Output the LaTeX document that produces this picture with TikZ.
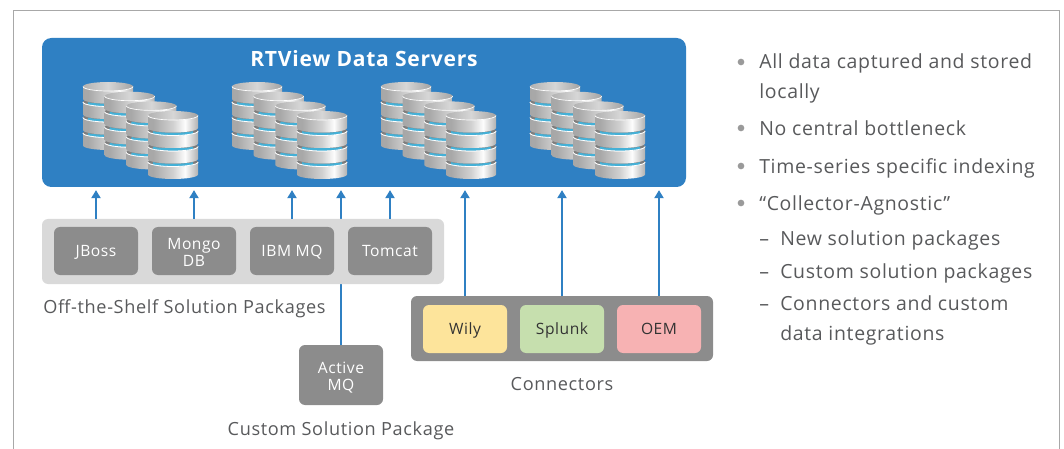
\documentclass[tikz,border=0pt]{standalone}
\usepackage{fontspec}
\setmainfont[LetterSpace=3.5]{Open Sans}
\usetikzlibrary{positioning, calc, arrows.meta}
\definecolor{ServerBlue}{HTML}{2F80C3}
\definecolor{PanelLight}{HTML}{D9D9D9}
\definecolor{BoxGray}{HTML}{8C8C8C}
\definecolor{WilyYellow}{HTML}{FDE49B}
\definecolor{SplunkGreen}{HTML}{C6DFAE}
\definecolor{OemPink}{HTML}{F7B2B3}
\definecolor{TextGray}{HTML}{58595B}
\definecolor{DotGray}{HTML}{9A9A9A}
\definecolor{FrameGray}{HTML}{A8A8A8}
\definecolor{RingTeal}{HTML}{45B0D6}
\pgfdeclarehorizontalshading{DiskSide}{100bp}{
color(0bp)=(white!50!black);
color(8bp)=(white!64!black);
color(30bp)=(white!66!black);
color(50bp)=(white!82!black);
color(62bp)=(white!99!black);
color(74bp)=(white!72!black);
color(90bp)=(white!45!black);
color(100bp)=(white!52!black)}
\pgfdeclarehorizontalshading{DiskTop}{100bp}{
color(0bp)=(white!88!black);
color(22bp)=(white!68!black);
color(50bp)=(white!84!black);
color(80bp)=(white!60!black);
color(100bp)=(white!80!black)}
\pgfdeclarehorizontalshading{DiskGap}{100bp}{
color(0bp)=(white!35!black);
color(50bp)=(white!62!black);
color(100bp)=(white!30!black)}
\tikzset{
Disk/.pic={
	\shade[shading=DiskSide] (-25,0) -- (-25,12.5) arc[start angle=180, end angle=0, x radius=25, y radius=4.5] -- (25,0) -- cycle;
	\shade[shading=DiskTop] (0,0) ellipse [x radius=25, y radius=4.5];
	\draw[white, line width=0.5pt] (-25,0) arc[start angle=180, end angle=0, x radius=25, y radius=4.5];
},
Ring/.pic={
	\shade[shading=DiskGap] (0,0) ellipse [x radius=25, y radius=4.5];
	\draw[RingTeal, line width=2pt] (-20,1.2) arc[start angle=180, end angle=0, x radius=20, y radius=1.8];
	\draw[white, line width=0.6pt] (-25,0) arc[start angle=180, end angle=0, x radius=25, y radius=4.5];
},
Stack/.pic={
	\pic at (0,46.5) {Disk};
	\pic at (0,46.5) {Ring};
	\pic at (0,31) {Disk};
	\pic at (0,31) {Ring};
	\pic at (0,15.5) {Disk};
	\pic at (0,15.5) {Ring};
	\pic at (0,0) {Disk};
},
Tower/.pic={
	\pic at (0,0) {Stack};
	\pic at (21.7,9.7) {Stack};
	\pic at (43.4,19.4) {Stack};
	\pic at (65,29) {Stack};
},
}
\tikzstyle{Link} = [
%uplink with a small gap under the server block:
draw=ServerBlue, line width=1pt, -{Triangle[length=6pt, width=7pt]}, shorten >= 2.2pt
]
\begin{document}
\begin{tikzpicture}[
		x=0.75pt, y=-0.75pt,
		panel/.style = {rectangle, rounded corners=4.5pt, minimum width=301.5pt, minimum height=48.75pt},
		solution/.style = {rectangle, rounded corners=4.5pt, minimum width=63pt, minimum height=36pt, fill=BoxGray, text=white, align=center, font=\fontsize{11.7}{12.5}\selectfont, inner sep=0pt, text depth=0pt},
		oneline/.style = {text height=8.4pt},
		connector/.style = {rectangle, rounded corners=4.5pt, minimum width=63pt, minimum height=36pt, text=black!80, font=\fontsize{11.7}{12.5}\selectfont, inner sep=0pt, text height=8.4pt, text depth=0pt},
		caption/.style = {text=TextGray, font=\fontsize{13.6}{15}\selectfont, inner sep=0pt, anchor=base},
		point/.style = {text=TextGray, font=\fontsize{14.6}{22.75}\selectfont, inner sep=0pt, anchor=base west, align=left},
		dot/.style = {circle, fill=DotGray, inner sep=0pt, minimum size=5pt},
	]
	\useasboundingbox (0,0) rectangle (1064,449);
	\coordinate (FB) at (13.5,449);
	\coordinate (FT) at (13.5,10.5);
	\coordinate (GT) at (1059.5,10.5);
	\coordinate (GB) at (1059.5,449);
	\draw[FrameGray, line width=1pt] (FB)--(FT)--(GT)--(GB);

	\node[rectangle, rounded corners=7pt, fill=ServerBlue, minimum width=483pt, minimum height=111.75pt] (servers) at (364,112.5) {};
	\node[text=white, inner sep=0pt, anchor=base, font=\fontsize{15.8}{18}\selectfont\bfseries] (title) at (364,66.5) {RTView Data Servers};

	\pic at (108,86.5) {Tower};
	\pic at (257,86.5) {Tower};
	\pic at (406,86.5) {Tower};
	\pic at (555,86.5) {Tower};

	\node[solution, minimum height=45pt] (amq) at (341,375) {};
	\node[solution, fill=none, minimum height=0pt, minimum width=0pt] (amqtext) at (341,376.5) {Active\\MQ};
	\draw[Link](amq.north)--(amq.north |- servers.south);

	\node[panel, fill=PanelLight] (packages) at (243,251.5) {};
	\node[solution, oneline] (jboss) at (96,251) {JBoss};
	\node[solution] (mongo) at (194,251) {};
	\node[solution, fill=none, minimum height=0pt, minimum width=0pt] (mongotext) at (194,252.5) {Mongo\\DB};
	\node[solution, oneline] (ibm) at (292,251) {IBM MQ};
	\node[solution, oneline] (tomcat) at (390,251) {Tomcat};

	\node[panel, minimum width=226.5pt, fill=BoxGray] (connectors) at (562,328.5) {};
	\node[connector, fill=WilyYellow] (wily) at (465,329) {Wily};
	\node[connector, fill=SplunkGreen] (splunk) at (562,329) {Splunk};
	\node[connector, fill=OemPink] (oem) at (659,329) {OEM};

	\draw[Link](jboss.north |- packages.north)--(jboss.north |- servers.south);
	\draw[Link](mongo.north |- packages.north)--(mongo.north |- servers.south);
	\draw[Link](ibm.north |- packages.north)--(ibm.north |- servers.south);
	\draw[Link](tomcat.north |- packages.north)--(tomcat.north |- servers.south);
	\draw[Link](wily.north |- connectors.north)--(wily.north |- servers.south);
	\draw[Link](splunk.north |- connectors.north)--(splunk.north |- servers.south);
	\draw[Link](oem.north |- connectors.north)--(oem.north |- servers.south);

	\node[caption] (offshelf) at (184.5,313) {Off-the-Shelf Solution Packages};
	\node[caption] (custom) at (341,435) {Custom Solution Package};
	\node[caption] (connlabel) at (562,390) {Connectors};

	\node[dot] (d1) at (741,62) {};
	\node[dot] (d2) at (741,128) {};
	\node[dot] (d3) at (741,166) {};
	\node[dot] (d4) at (741,203) {};
	\node[point] (p1) at (759,99) {All data captured and stored\\locally};
	\node[point] (p2) at (759,136) {No central bottleneck};
	\node[point] (p3) at (759,174) {Time-series specific indexing};
	\node[point] (p4) at (759,211) {“Collector-Agnostic”};
	\node[point] (m1) at (759,245) {–};
	\node[point] (m2) at (759,278) {–};
	\node[point] (m3) at (759,310) {–};
	\node[point] (s1) at (780,245) {New solution packages};
	\node[point] (s2) at (780,278) {Custom solution packages};
	\node[point] (s3) at (780,340.5) {Connectors and custom\\data integrations};
\end{tikzpicture}
\end{document}
